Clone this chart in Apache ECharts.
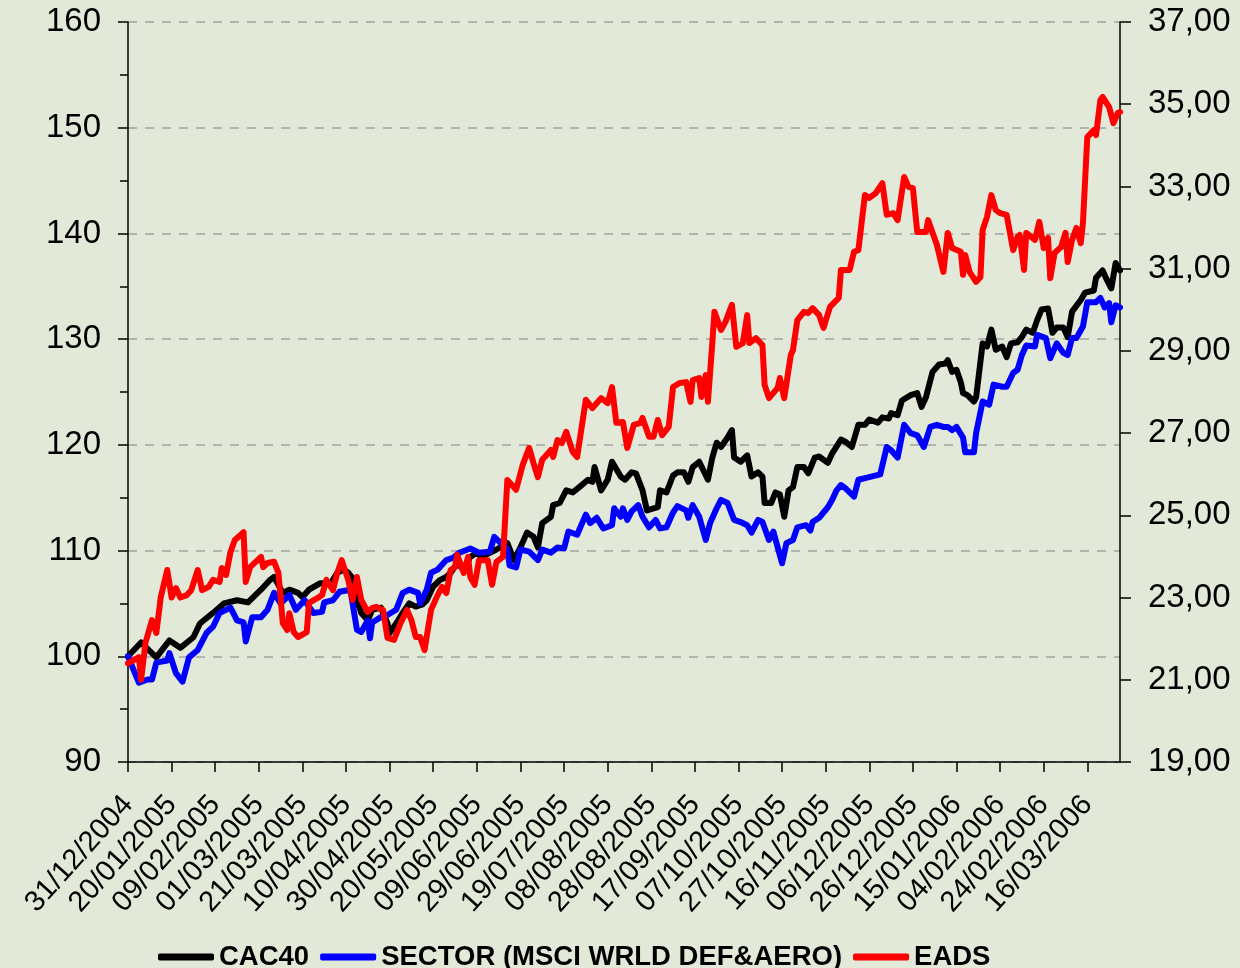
<!DOCTYPE html>
<html>
<head>
<meta charset="utf-8">
<script src="https://cdn.jsdelivr.net/npm/echarts@6/dist/echarts.min.js"></script>
<style>
html,body{margin:0;padding:0;background:#e3e9d8;}
#chart{width:1240px;height:968px;}
</style>
</head>
<body>
<div id="chart"></div>
<script>
// Day offsets are counted from 31/12/2004
const startDate = [2004, 11, 31];
const seriesNames = ['CAC40', 'SECTOR (MSCI WRLD DEF&AERO)', 'EADS'];

const cacDays = [0,6,13,19,24,30,33,39,44,50,55,61,65,67,71,74,78,80,83,88,93,96,99,101,103,105,107,110,112,116,119,120,123,126,129,132,135,137,140,143,146,148,151,154,157,160,162,166,169,174,177,180,183,186,188,190,194,195,198,201,204,207,211,213,214,217,220,222,226,228,231,233,236,238,243,244,247,250,252,255,257,259,262,266,268,270,272,275,277,278,281,284,286,289,291,292,295,297,299,301,303,305,307,310,312,315,317,321,323,327,329,332,335,338,340,344,346,349,350,353,355,359,362,364,366,369,372,375,376,378,380,382,383,385,388,389,392,394,396,398,401,403,405,408,410,412,415,417,419,422,423,424,426,429,431,433,437,439,443,444,447,449,451,453,455];
const cacValues = [100.0,101.3,99.9,101.5,100.8,101.8,103.1,104.1,105.0,105.3,105.1,106.3,107.2,107.5,106.0,106.3,106.0,105.6,106.3,106.9,106.9,107.9,108.2,107.9,107.4,105.3,104.1,103.4,104.4,104.6,103.1,102.2,103.1,104.1,105.0,104.7,104.9,105.3,106.6,107.2,107.5,107.9,108.8,108.2,109.4,109.8,109.4,109.8,110.1,110.7,109.1,110.3,111.7,111.3,110.3,112.6,113.2,114.3,114.5,115.7,115.5,116.0,116.7,116.5,117.9,115.7,116.7,118.4,117.0,116.7,117.4,117.3,115.7,113.8,114.1,115.7,115.5,117.1,117.4,117.4,116.5,117.9,118.4,116.7,118.8,120.2,119.8,120.7,121.4,118.8,118.4,119.0,117.0,117.4,117.0,114.5,114.5,115.5,115.3,113.2,115.7,116.0,117.9,117.9,117.3,118.8,118.9,118.3,119.2,120.5,120.3,119.8,121.9,121.9,122.4,122.1,122.6,122.5,123.0,122.8,124.2,124.7,124.9,123.6,124.5,126.9,127.6,127.7,128.0,126.9,127.1,125.9,124.9,124.7,124.1,124.5,129.6,129.3,130.9,129.0,129.3,128.3,129.6,129.7,130.2,130.9,130.6,131.8,132.8,132.9,131.8,130.6,131.1,131.1,130.2,132.6,133.7,134.4,134.6,135.8,136.5,135.6,134.8,137.2,136.5];

const sectorDays = [0,5,9,11,13,18,19,22,25,28,32,36,39,42,47,50,53,54,57,61,64,67,70,74,77,81,85,89,90,94,97,102,105,107,110,111,112,116,119,123,126,129,133,134,137,139,142,146,149,152,157,161,166,168,171,174,175,178,180,184,188,190,194,197,200,202,206,210,212,215,218,222,223,226,227,229,231,234,236,239,242,244,247,250,252,256,257,259,262,265,267,270,272,275,278,281,284,286,289,291,294,296,298,300,302,305,307,311,313,314,317,319,321,323,325,327,329,331,333,335,339,345,348,350,353,356,359,362,365,368,371,374,376,378,380,383,384,388,389,392,395,397,401,403,406,408,410,412,416,417,421,423,426,429,431,433,435,438,440,444,446,448,450,451,453,455];
const sectorValues = [100.0,97.5,97.8,97.8,99.4,99.6,100.3,98.4,97.6,99.9,100.6,102.2,102.8,104.1,104.6,103.4,103.2,101.4,103.7,103.7,104.4,106.0,105.0,105.8,104.4,105.3,104.1,104.2,105.1,105.3,106.1,106.3,102.5,102.3,103.4,101.7,103.2,103.7,103.9,104.4,106.0,106.3,106.0,105.0,106.3,107.9,108.2,109.1,109.3,109.8,110.2,109.8,109.9,111.3,110.7,110.1,108.6,108.4,110.1,109.9,109.1,110.1,109.8,110.3,110.2,111.8,111.5,113.4,112.6,113.1,112.1,112.4,114.0,113.2,114.0,112.9,113.7,114.3,113.2,112.2,112.9,112.1,112.2,113.6,114.2,113.8,113.1,114.3,113.2,111.0,112.6,114.0,114.8,114.5,112.9,112.7,112.4,111.7,112.9,112.7,111.0,111.8,110.3,108.8,110.7,111.0,112.2,112.4,111.9,112.7,113.1,113.6,114.1,114.8,115.7,116.2,115.9,115.5,115.1,116.7,116.9,117.2,119.8,119.5,118.8,121.9,121.1,120.9,119.8,121.7,121.9,121.7,121.7,121.4,121.7,120.7,119.3,119.3,121.1,124.1,123.8,125.7,125.5,125.5,126.8,127.1,128.5,129.4,129.3,130.4,130.1,128.2,129.6,128.7,128.5,130.1,130.1,131.2,133.5,133.5,133.9,133.0,133.4,131.6,133.2,133.0];

const eadsDays = [0,5,6,8,11,13,15,18,20,22,24,27,29,32,34,37,39,42,43,45,47,49,53,54,56,57,61,62,64,67,69,71,73,74,76,78,82,83,87,89,91,94,96,98,101,103,105,107,110,112,114,117,119,122,125,128,130,132,134,136,139,142,144,146,148,150,151,154,156,157,159,161,165,167,169,172,174,178,181,184,186,188,190,194,195,197,199,201,204,206,210,213,217,220,222,224,227,229,232,235,236,239,241,243,245,248,250,253,256,258,259,262,263,265,266,268,269,272,274,277,279,282,284,285,288,291,292,294,298,299,301,304,305,307,310,312,314,317,319,322,326,327,331,333,335,338,340,343,346,348,351,353,356,358,360,362,366,367,371,374,376,378,382,383,384,386,389,391,392,394,396,398,400,403,406,408,409,411,412,416,418,420,422,423,425,428,430,431,433,435,437,438,440,443,444,446,447,450,452,454,455];
const eadsValues = [21.40,21.55,21.00,21.90,22.45,22.14,23.00,23.67,23.00,23.23,23.00,23.06,23.18,23.67,23.18,23.26,23.43,23.38,23.72,23.55,24.11,24.40,24.59,23.38,23.74,23.79,23.99,23.74,23.84,23.87,23.60,22.38,22.21,22.62,22.16,22.04,22.16,22.87,22.99,23.06,23.43,23.18,23.60,23.91,23.43,22.94,23.50,22.94,22.65,22.75,22.77,22.70,22.02,21.97,22.38,22.70,22.45,22.04,22.04,21.72,22.70,23.06,23.26,23.11,23.67,23.74,24.04,23.60,23.99,23.50,23.31,23.91,23.91,23.31,23.87,23.99,25.86,25.62,26.22,26.64,26.27,25.93,26.35,26.59,26.42,26.83,26.76,27.03,26.54,26.42,27.81,27.61,27.85,27.73,28.12,27.25,27.27,26.64,27.20,27.25,27.37,26.91,26.91,27.32,26.95,27.15,28.12,28.22,28.24,27.76,28.29,28.34,27.88,28.41,27.76,29.19,29.95,29.51,29.70,30.12,29.10,29.19,29.87,29.19,29.31,29.14,28.17,27.85,28.10,28.34,27.85,28.90,29.02,29.75,29.95,29.92,30.04,29.87,29.56,30.07,30.29,30.97,30.97,31.41,31.45,32.79,32.72,32.84,33.08,32.31,32.35,32.18,33.23,32.99,32.96,31.89,31.89,32.18,31.58,30.92,31.87,31.50,31.41,30.85,31.33,30.92,30.68,30.80,31.94,32.26,32.79,32.43,32.35,32.31,31.45,31.77,31.82,30.97,31.87,31.70,32.14,31.50,31.75,30.77,31.38,31.53,31.87,31.16,31.70,31.99,31.62,32.11,34.20,34.37,34.25,35.10,35.18,34.93,34.54,34.79,34.81];

const leftTicks = {min: 90, max: 160, interval: 10};
const rightTicks = {min: 19, max: 37, interval: 2};
const xRange = {min: 0, max: 455, interval: 20};

function dayLabel(d) {
  const t = new Date(Date.UTC(startDate[0], startDate[1], startDate[2]) + d * 86400000);
  const dd = String(t.getUTCDate()).padStart(2, '0');
  const mm = String(t.getUTCMonth() + 1).padStart(2, '0');
  return dd + '/' + mm + '/' + t.getUTCFullYear();
}
function pairs(days, vals) { return days.map((d, i) => [d, vals[i]]); }

const FONT = "'Liberation Sans', Arial, sans-serif";
const chart = echarts.init(document.getElementById('chart'), null, {renderer: 'canvas'});
chart.setOption({
  backgroundColor: '#e3e9d8',
  animation: false,
  grid: {left: 128, right: 120, top: 22, bottom: 206, containLabel: false},
  legend: {
    left: 153, top: 938,
    itemWidth: 56, itemHeight: 7, itemGap: 11,
    icon: 'roundRect',
    textStyle: {fontFamily: FONT, fontSize: 27.5, fontWeight: 'bold', color: '#000'},
    data: seriesNames
  },
  xAxis: {
    type: 'value', min: xRange.min, max: xRange.max, interval: xRange.interval,
    axisLine: {lineStyle: {color: '#000', width: 1.5}},
    axisTick: {show: true, length: 10, lineStyle: {color: '#000', width: 1.5}},
    splitLine: {show: false},
    axisLabel: {
      rotate: 48, margin: 38, fontSize: 29, fontFamily: FONT, color: '#000',
      showMaxLabel: false,
      formatter: v => (v % 20 === 0 ? dayLabel(v) : '')
    }
  },
  yAxis: [{
    type: 'value', position: 'left', min: leftTicks.min, max: leftTicks.max, interval: leftTicks.interval,
    axisLine: {show: true, lineStyle: {color: '#000', width: 1.5}},
    axisTick: {show: true, length: 10, lineStyle: {color: '#000', width: 1.5}},
    minorTick: {show: true, splitNumber: 2, length: 8, lineStyle: {color: '#000', width: 1.5}},
    splitLine: {show: true, lineStyle: {color: '#a3a3a3', width: 1.5, type: [9, 8]}},
    axisLabel: {fontSize: 33, fontFamily: FONT, color: '#000', margin: 27}
  }, {
    type: 'value', position: 'right', min: rightTicks.min, max: rightTicks.max, interval: rightTicks.interval,
    axisLine: {show: true, lineStyle: {color: '#000', width: 1.5}},
    axisTick: {show: true, length: 11, lineStyle: {color: '#000', width: 1.5}},
    splitLine: {show: false},
    axisLabel: {fontSize: 33, fontFamily: FONT, color: '#000', margin: 28,
      formatter: v => v.toFixed(2).replace('.', ',')}
  }],
  series: [{
    name: seriesNames[0], type: 'line', yAxisIndex: 0, showSymbol: false, symbol: 'none',
    lineStyle: {color: '#000000', width: 6, join: 'round', cap: 'round'}, itemStyle: {color: '#000000'},
    data: pairs(cacDays, cacValues)
  }, {
    name: seriesNames[1], type: 'line', yAxisIndex: 0, showSymbol: false, symbol: 'none',
    lineStyle: {color: '#0000ff', width: 6, join: 'round', cap: 'round'}, itemStyle: {color: '#0000ff'},
    data: pairs(sectorDays, sectorValues)
  }, {
    name: seriesNames[2], type: 'line', yAxisIndex: 1, showSymbol: false, symbol: 'none',
    lineStyle: {color: '#ff0000', width: 6, join: 'round', cap: 'round'}, itemStyle: {color: '#ff0000'},
    data: pairs(eadsDays, eadsValues)
  }]
});
</script>
</body>
</html>
